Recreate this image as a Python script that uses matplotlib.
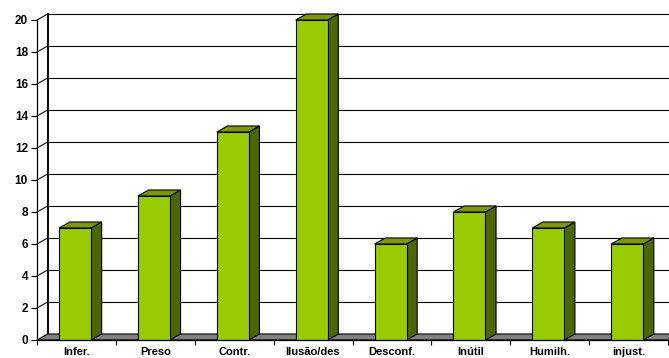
import matplotlib
matplotlib.use("Agg")
import matplotlib.pyplot as plt
from matplotlib.patches import Polygon

labels = ["Infer.", "Preso", "Contr.", "Ilusão/des", "Desconf.", "Inútil", "Humilh.", "injust."]
values = [7, 9, 13, 20, 6, 8, 7, 6]
yticks = [0, 2, 4, 6, 8, 10, 12, 14, 16, 18, 20]

FRONT = "#99CC00"
SIDE = "#4C6600"
TOP = "#7A9A00"
FLOOR = "#808080"

# depth offset of the fake 3D box, in data units
DX, DY = 0.135, 0.375
BAR_OFF, BAR_W = 0.28, 0.405

plt.rcParams["font.family"] = ["Liberation Sans", "DejaVu Sans"]

fig = plt.figure(figsize=(6.69, 3.58), dpi=100)
ax = fig.add_axes([37 / 669, 18 / 358, 631 / 669, 320 / 358])
n = len(labels)
ax.set_xlim(0, n)
ax.set_ylim(0, 20)

# back wall + left wall gridlines
for v in yticks[1:]:
    ax.plot([DX, n + 2 * DX], [v + DY, v + DY], color="black", lw=0.8,
            clip_on=False, zorder=1)
    ax.plot([0, DX], [v, v + DY], color="black", lw=0.8, clip_on=False, zorder=1)
ax.plot([DX, DX], [DY, 20 + DY], color="black", lw=1.4, clip_on=False, zorder=2)

# floor
floor = Polygon([(0, 0), (n + DX, 0), (n + 2 * DX, DY), (DX, DY)], closed=True,
                fc=FLOOR, ec="black", lw=0.8, clip_on=False, zorder=2)
ax.add_patch(floor)

# bars: front face from ax.bar, side and top faces as polygons
xs = [i + BAR_OFF for i in range(n)]
ax.bar(xs, values, width=BAR_W, align="edge", color=FRONT, edgecolor="black",
       linewidth=0.8, zorder=4)
for x, v in zip(xs, values):
    r = x + BAR_W
    side = Polygon([(r, 0), (r + DX, DY), (r + DX, v + DY), (r, v)], closed=True,
                   fc=SIDE, ec="black", lw=0.8, clip_on=False, zorder=3)
    top = Polygon([(x, v), (r, v), (r + DX, v + DY), (x + DX, v + DY)], closed=True,
                  fc=TOP, ec="black", lw=0.8, clip_on=False, zorder=3)
    ax.add_patch(side)
    ax.add_patch(top)

for s in ("top", "right"):
    ax.spines[s].set_visible(False)
ax.spines["left"].set_linewidth(0.9)
ax.spines["bottom"].set_linewidth(0.9)
ax.spines["left"].set_zorder(5)
ax.spines["bottom"].set_zorder(5)

ax.set_yticks(yticks)
ax.set_yticklabels([str(t) for t in yticks], fontsize=8.5, fontweight="bold")
ax.tick_params(axis="y", direction="out", length=4.5, width=0.8, pad=2)

ax.set_xticks(range(n + 1))
ax.set_xticklabels([])
ax.set_xticks([i + 0.5 for i in range(n)], minor=True)
ax.set_xticklabels(labels, minor=True, fontsize=8, fontweight="bold")
ax.tick_params(axis="x", which="major", direction="out", length=3.5, width=0.8)
ax.tick_params(axis="x", which="minor", length=0, pad=5)

fig.savefig("out.png", dpi=100)
